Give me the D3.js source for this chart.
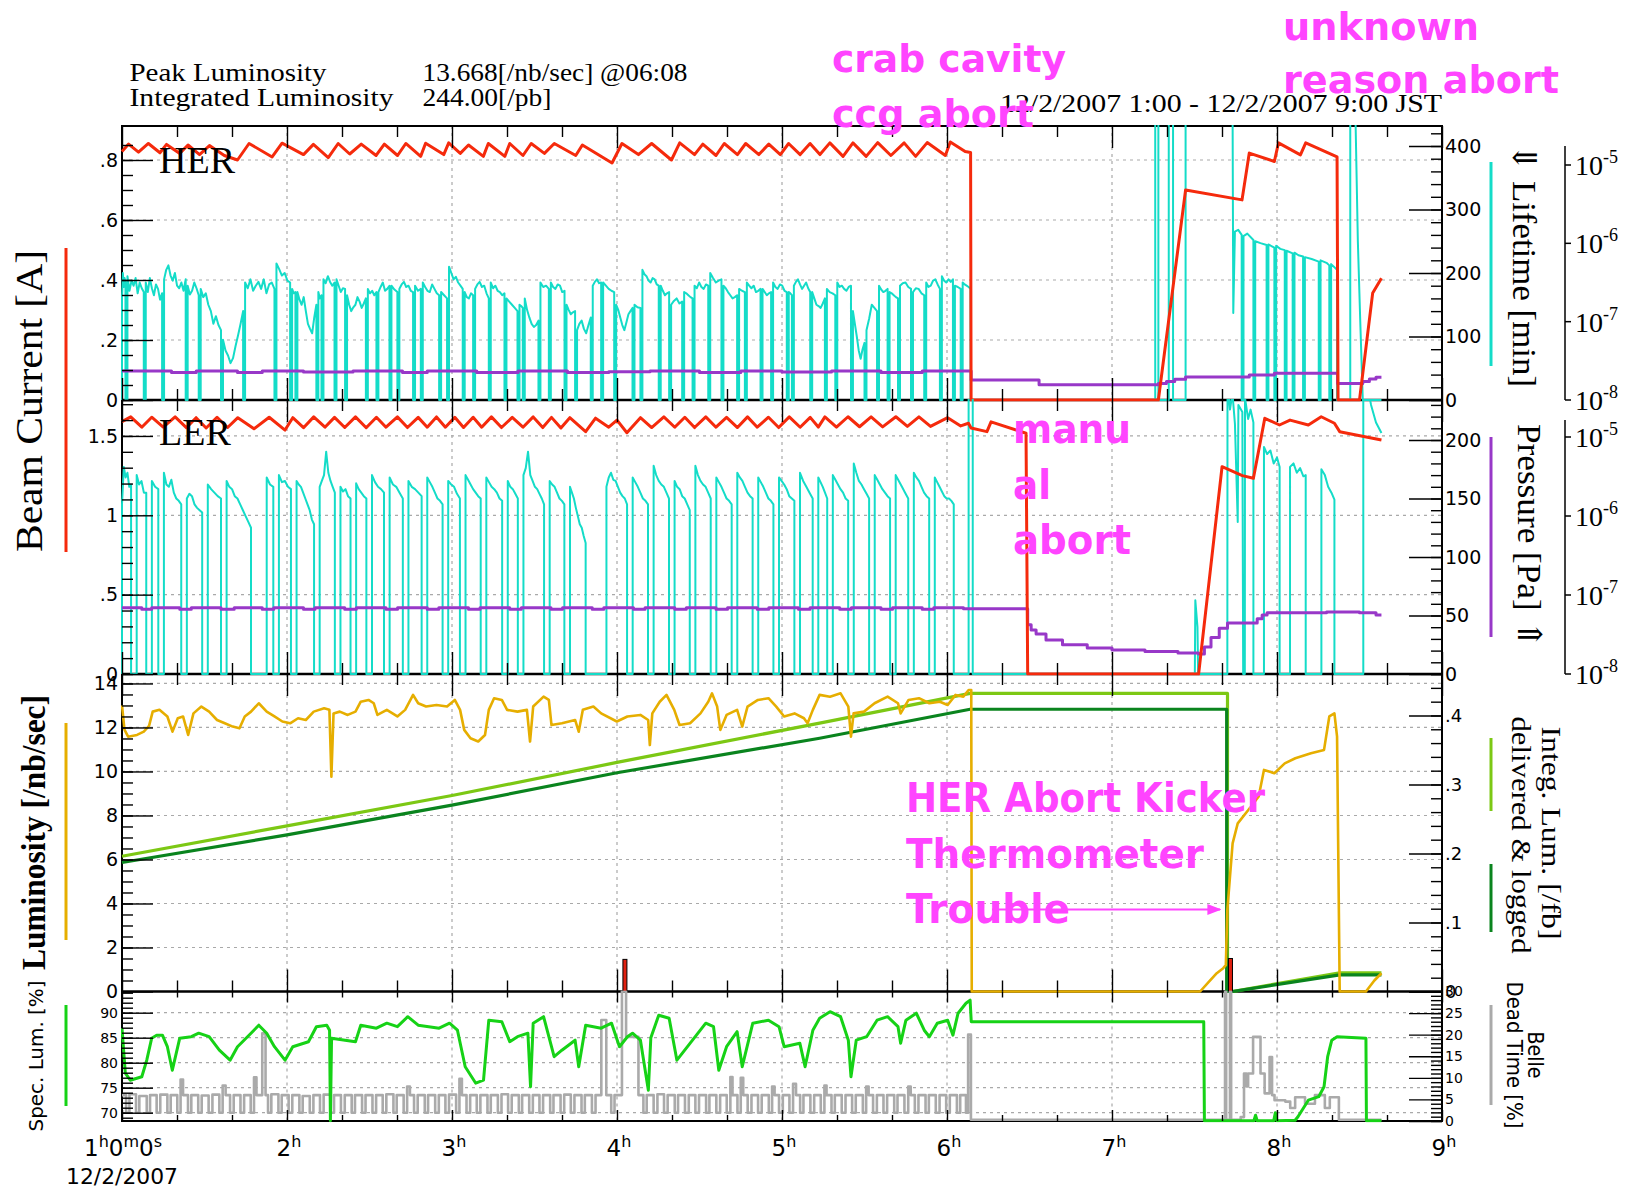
<!DOCTYPE html>
<html lang="en">
<head>
<meta charset="UTF-8">
<title>KEKB / Belle 12/2/2007</title>
<script src="https://d3js.org/d3.v7.min.js"></script>
</head>
<body style="margin:0;background:#fff">
<svg width="1641" height="1189"></svg>
<script>
// ---------------- data (time in hours JST, 12/2/2007) ----------------
var hourLabels = ["1", "2", "3", "4", "5", "6", "7", "8", "9"];
var firstLabelParts = [["1", "h"], ["0", "m"], ["0", "s"]];

var herTicks = [0, 0.2, 0.4, 0.6, 0.8], herTickLabels = ["0", ".2", ".4", ".6", ".8"];
var lerTicks = [0, 0.5, 1, 1.5], lerTickLabels = ["0", ".5", "1", "1.5"];
var lumTicks = [0, 2, 4, 6, 8, 10, 12, 14], lumTickLabels = ["0", "2", "4", "6", "8", "10", "12", "14"];
var specTicks = [70, 75, 80, 85, 90], specTickLabels = ["70", "75", "80", "85", "90"];
var herLifeTicks = [0, 100, 200, 300, 400], herLifeLabels = ["0", "100", "200", "300", "400"];
var lerLifeTicks = [0, 50, 100, 150, 200], lerLifeLabels = ["0", "50", "100", "150", "200"];
var integTicks = [0, 0.1, 0.2, 0.3, 0.4], integLabels = ["0", ".1", ".2", ".3", ".4"];
var deadTicks = [0, 5, 10, 15, 20, 25, 30], deadLabels = ["0", "5", "10", "15", "20", "25", "30"];
var logExponents = [-8, -7, -6, -5];

// HER beam current [A]
var herCurrent = [
  [1.000,0.828],[1.040,0.853],[1.100,0.826],[1.160,0.855],[1.230,0.824],[1.270,0.852],[1.350,0.822],[1.400,0.850],
  [1.470,0.818],[1.530,0.848],[1.620,0.815],[1.700,0.800],[1.770,0.855],[1.910,0.810],[1.970,0.856],[2.100,0.818],
  [2.160,0.852],[2.250,0.808],[2.310,0.855],[2.380,0.820],[2.450,0.853],[2.540,0.815],[2.590,0.853],[2.670,0.815],
  [2.720,0.855],[2.810,0.812],[2.840,0.856],[2.950,0.818],[2.980,0.857],[3.050,0.822],[3.100,0.850],[3.190,0.812],
  [3.220,0.855],[3.320,0.812],[3.350,0.855],[3.430,0.815],[3.480,0.855],[3.560,0.822],[3.620,0.855],[3.750,0.815],
  [3.790,0.850],[3.970,0.790],[4.030,0.855],[4.130,0.818],[4.210,0.855],[4.330,0.800],[4.380,0.857],[4.470,0.818],
  [4.520,0.853],[4.600,0.815],[4.650,0.855],[4.730,0.818],[4.780,0.855],[4.860,0.818],[4.920,0.853],[4.990,0.818],
  [5.040,0.855],[5.110,0.818],[5.170,0.855],[5.230,0.818],[5.290,0.857],[5.370,0.812],[5.430,0.857],[5.510,0.812],
  [5.580,0.858],[5.660,0.815],[5.740,0.857],[5.810,0.812],[5.880,0.858],[5.990,0.815],[6.020,0.860],[6.110,0.828],
  [6.143,0.825],[6.146,0],[7.281,0],[7.446,0.700],[7.788,0.667],[7.832,0.823],[7.984,0.795],[8.009,0.857],
  [8.142,0.817],[8.174,0.857],[8.364,0.810],[8.370,0],[8.500,0],[8.580,0.357],[8.633,0.406]
];

// LER beam current [A]
var lerCurrent = [
  [1.000,1.590],[1.053,1.620],[1.120,1.555],[1.180,1.618],[1.250,1.555],[1.322,1.620],[1.390,1.552],[1.449,1.615],
  [1.510,1.550],[1.576,1.618],[1.640,1.553],[1.702,1.615],[1.800,1.545],[1.892,1.618],[1.988,1.537],[2.035,1.615],
  [2.100,1.552],[2.162,1.620],[2.230,1.555],[2.288,1.617],[2.350,1.553],[2.415,1.620],[2.480,1.552],[2.542,1.618],
  [2.600,1.555],[2.669,1.620],[2.730,1.553],[2.795,1.617],[2.850,1.555],[2.906,1.620],[2.960,1.555],[3.017,1.618],
  [3.070,1.553],[3.128,1.618],[3.180,1.555],[3.239,1.620],[3.300,1.553],[3.365,1.617],[3.430,1.555],[3.492,1.620],
  [3.550,1.553],[3.603,1.617],[3.660,1.550],[3.714,1.615],[3.810,1.527],[3.870,1.612],[3.950,1.555],[4.000,1.600],
  [4.060,1.520],[4.142,1.615],[4.210,1.553],[4.284,1.620],[4.350,1.555],[4.411,1.618],[4.470,1.553],[4.538,1.620],
  [4.600,1.555],[4.664,1.617],[4.730,1.553],[4.791,1.620],[4.850,1.555],[4.918,1.618],[4.980,1.553],[5.044,1.620],
  [5.110,1.555],[5.171,1.617],[5.220,1.556],[5.260,1.620],[5.330,1.555],[5.400,1.621],[5.470,1.558],[5.540,1.620],
  [5.610,1.557],[5.690,1.621],[5.760,1.560],[5.830,1.620],[5.900,1.560],[6.004,1.615],[6.083,1.563],[6.130,1.580],
  [6.146,1.550],[6.242,1.527],[6.267,1.589],[6.479,1.517],[6.489,0],[7.525,0],[7.667,1.306],[7.790,1.250],
  [7.857,1.233],[7.926,1.611],[8.015,1.569],[8.079,1.600],[8.190,1.569],[8.268,1.621],[8.348,1.580],[8.380,1.527],
  [8.633,1.474]
];

// HER lifetime [min]: on-intervals [start, end, readings...], zero in between
var herLifeSegs = [
  [1.000,1.021,160,200,178,192,185],[1.033,1.132,195,172,188,180,192,168,185,176,170],
  [1.144,1.243,185,170,192,176,165,182,175,158,168],[1.255,1.386,190,205,212,196,188,200,180,176,185,172,190],
  [1.398,1.465,180,166,172,185,176,165],[1.477,1.600,175,162,168,150,140,120,132,118,110],
  [1.612,1.734,95,78,70,58,66,85,102,120,140],[1.746,1.924,185,176,190,172,180,186,175,190,168,182,185,175],
  [1.936,2.019,215,206,196,200,188,185],[2.031,2.051,175,168,170],[2.063,2.178,170,158,150,162,140,120,112,105,130,150],
  [2.190,2.209,170,160,165],[2.221,2.288,190,184,195,186,180,185],[2.300,2.352,190,180,170,176,175],
  [2.364,2.478,165,150,140,146,150,162,155,145,152,160],[2.490,2.542,175,168,172,165,170],
  [2.554,2.621,170,178,185,172,175,180],[2.633,2.669,180,174,170],[2.681,2.764,175,182,186,178,180,172,170],
  [2.776,2.811,180,172,175],[2.823,2.922,185,178,172,170,182,175,168,165],[2.934,2.970,170,165,160],
  [2.982,3.065,210,200,190,194,185,180,175],[3.077,3.128,170,162,160,168,165],[3.140,3.223,175,182,186,178,180,168,160],
  [3.235,3.318,185,176,180,172,170,165,168],[3.330,3.397,160,155,150,145,140],[3.409,3.429,150,148,145],
  [3.441,3.524,160,142,130,120,115,118,125],[3.536,3.587,185,178,180,175],[3.599,3.682,185,178,175,182,180,170,172],
  [3.694,3.746,150,142,135,138,140],[3.758,3.841,110,120,125,112,105,118,130],[3.853,3.904,180,186,190,184,185],
  [3.916,3.983,185,180,175,172,170],[3.995,4.094,150,142,130,118,110,122,135,140,145],[4.106,4.142,150,146,145],
  [4.154,4.253,205,198,195,188,185,192,190,182,180],[4.265,4.316,180,172,165,168,170],[4.328,4.395,150,156,160,152,155],
  [4.407,4.458,170,168,165,162,160],[4.470,4.553,180,176,185,178,175,182,180],[4.565,4.633,200,192,185,188,190],
  [4.645,4.728,180,176,170,165,160,162,165],[4.740,4.775,175,172,170],[4.787,4.870,185,180,176,180,170,172,175],
  [4.882,4.934,175,170,165,168,170],[4.946,5.029,185,178,175,182,180,172,170],[5.041,5.060,170,168,165],
  [5.072,5.171,180,186,190,182,175,180,185,176,170],[5.183,5.260,170,160,150,148,145,152,160],[5.272,5.323,175,170,168,165],
  [5.335,5.418,185,178,180,175,172,178,180],[5.430,5.500,140,120,100,78,65,80,90],[5.512,5.576,110,128,150,145,140],
  [5.588,5.640,180,174,170,172,175],[5.652,5.703,170,168,165,162,160],[5.715,5.782,180,184,185,178,175],
  [5.794,5.862,170,176,175,168,165],[5.874,5.957,185,178,180,188,190,182,175],[5.969,6.036,195,188,185,190,186,190],
  [6.048,6.083,180,178,175],[6.095,6.143,185,182,180,178,175]
];
var herLifeLate = [
  [6.143,0],[7.262,0],[7.262,440],[7.281,440],[7.281,0],[7.344,0],[7.344,440],[7.370,440],[7.370,0],[7.446,0],
  [7.446,440],[7.731,440],[7.735,137],[7.745,265],[7.765,268],[7.786,260],[7.786,0],[7.797,0],[7.797,258],[7.820,262],
  [7.857,252],[7.857,0],[7.868,0],[7.868,250],[7.900,247],[7.937,244],[7.937,0],[7.948,0],[7.948,245],[7.984,240],
  [7.984,0],[7.995,0],[7.995,243],[8.020,238],[8.047,236],[8.047,0],[8.058,0],[8.058,235],[8.095,231],[8.095,0],
  [8.106,0],[8.106,232],[8.130,228],[8.158,226],[8.158,0],[8.169,0],[8.169,225],[8.210,222],[8.253,218],[8.253,0],
  [8.264,0],[8.264,220],[8.300,216],[8.317,212],[8.317,0],[8.328,0],[8.328,214],[8.364,205],[8.364,0],[8.444,0],
  [8.444,440],[8.476,440],[8.490,250],[8.505,120],[8.520,0],[8.633,0]
];

// LER lifetime [min]
var lerLifeSegs = [
  [1.000,1.055,145,177,168,172,160,162],[1.089,1.147,170,162,165,155,155],[1.181,1.220,165,160,158],
  [1.254,1.359,172,162,160,166,155,150,148,145],[1.393,1.486,150,154,152,145,142,140,138],[1.520,1.600,162,158,155,152,150],
  [1.634,1.782,165,160,158,152,150,145,140,135,130,125],[1.877,1.917,168,162,160],[1.951,2.024,170,164,165,160,158],
  [2.058,2.164,165,162,160,155,150,145,140,132,128],[2.198,2.290,160,165,170,190,172,165,160,155],
  [2.324,2.385,160,156,158,152,150],[2.419,2.481,163,158,155,152,150],[2.515,2.588,170,164,160,158,155],
  [2.622,2.702,168,162,160,155,150],[2.736,2.816,165,160,158,155,152],[2.850,2.943,168,164,160,155,150,148,145],
  [2.977,3.048,165,162,160,154,150],[3.082,3.174,170,166,162,158,155,152,150],[3.208,3.304,168,164,160,158,155,150,148],
  [3.338,3.399,165,160,158,154,150],[3.433,3.558,170,176,190,170,165,160,158,154,150,145],
  [3.592,3.681,165,162,160,155,150,148,145],[3.715,3.810,160,155,150,142,135,128,125,118,112],
  [3.936,4.061,160,168,172,166,165,160,155,152,150,145],[4.095,4.188,168,164,160,155,150,148,145],
  [4.222,4.315,178,170,165,162,160,155,150],[4.349,4.441,165,160,158,152,150,145,140],
  [4.475,4.568,178,170,165,162,160,155,150],[4.602,4.695,168,164,160,155,150,148,145],
  [4.729,4.822,172,168,165,160,155,152,150],[4.856,4.948,168,164,160,155,150,148,145],
  [4.982,5.075,168,165,162,158,152,150,148],[5.109,5.186,172,165,160,155,150],[5.220,5.274,168,164,160,155,150],
  [5.308,5.401,170,166,162,158,155,150,148],[5.435,5.528,180,172,165,162,158,154,150],
  [5.562,5.655,170,166,162,158,155,152,150],[5.689,5.765,170,165,160,155,150],
  [5.799,5.892,172,168,165,160,155,152,150],[5.926,6.041,168,164,160,156,152,150,150,148,145]
];
var lerLifeLate = [
  [6.131,0],[6.131,250],[6.156,250],[6.156,0],[7.502,0],[7.505,63],[7.518,40],[7.522,0],[7.699,0],[7.700,250],
  [7.715,226],[7.730,240],[7.745,214],[7.762,130],[7.766,230],[7.790,224],[7.795,0],[7.805,0],[7.806,236],[7.825,218],
  [7.840,226],[7.857,215],[7.857,0],[7.921,0],[7.921,194],[7.940,188],[7.960,191],[7.980,180],[8.000,185],[8.016,177],
  [8.016,0],[8.079,0],[8.079,177],[8.100,180],[8.120,172],[8.140,176],[8.160,169],[8.174,170],[8.174,0],[8.269,0],
  [8.269,175],[8.290,170],[8.310,160],[8.330,155],[8.348,149],[8.348,0],[8.523,0],[8.523,250],[8.550,245],[8.570,230],
  [8.600,215],[8.633,206]
];

// vacuum pressure [Pa] (step readings)
var herPressure = [
  [1.00,2.35e-8],[1.30,2.25e-8],[1.45,2.35e-8],[1.70,2.25e-8],[1.85,2.35e-8],[2.10,2.27e-8],[2.40,2.35e-8],
  [2.70,2.25e-8],[2.85,2.35e-8],[3.15,2.25e-8],[3.40,2.35e-8],[3.70,2.25e-8],[3.95,2.30e-8],[4.20,2.35e-8],
  [4.50,2.25e-8],[4.75,2.35e-8],[5.00,2.27e-8],[5.30,2.35e-8],[5.60,2.25e-8],[5.85,2.35e-8],[6.146,1.80e-8],
  [6.558,1.56e-8],[7.281,1.62e-8],[7.330,1.72e-8],[7.380,1.84e-8],[7.446,1.97e-8],[7.832,2.08e-8],[7.984,2.19e-8],
  [8.367,1.63e-8],[8.520,1.72e-8],[8.560,1.85e-8],[8.600,1.95e-8],[8.633,1.95e-8]
];
var lerPressure = [
  [1.00,6.9e-8],[1.12,6.6e-8],[1.18,6.9e-8],[1.35,6.6e-8],[1.42,6.9e-8],[1.60,6.6e-8],[1.68,6.9e-8],[1.85,6.6e-8],
  [1.92,6.9e-8],[2.10,6.6e-8],[2.17,6.9e-8],[2.35,6.6e-8],[2.42,6.9e-8],[2.60,6.6e-8],[2.67,6.9e-8],[2.85,6.6e-8],
  [2.92,6.9e-8],[3.10,6.6e-8],[3.17,6.9e-8],[3.35,6.6e-8],[3.42,6.9e-8],[3.60,6.6e-8],[3.67,6.9e-8],[3.85,6.6e-8],
  [3.92,6.9e-8],[4.10,6.6e-8],[4.17,6.9e-8],[4.35,6.6e-8],[4.42,6.9e-8],[4.60,6.6e-8],[4.67,6.9e-8],[4.85,6.6e-8],
  [4.92,6.9e-8],[5.10,6.6e-8],[5.17,6.9e-8],[5.35,6.6e-8],[5.42,6.9e-8],[5.60,6.6e-8],[5.67,6.9e-8],[5.85,6.6e-8],
  [5.92,6.9e-8],[6.10,6.7e-8],[6.489,4.2e-8],[6.510,3.6e-8],[6.540,3.2e-8],[6.600,2.7e-8],[6.700,2.35e-8],
  [6.850,2.13e-8],[7.000,2.01e-8],[7.200,1.93e-8],[7.400,1.85e-8],[7.525,1.79e-8],[7.560,2.2e-8],[7.600,2.9e-8],
  [7.650,3.8e-8],[7.700,4.43e-8],[7.880,5.0e-8],[7.910,5.6e-8],[7.940,5.97e-8],[8.300,6.1e-8],[8.500,5.97e-8],
  [8.600,5.6e-8],[8.633,5.6e-8]
];

// luminosity [/nb/sec]
var luminosity = [
  [1.000,13.0],[1.015,11.9],[1.037,11.58],[1.091,11.66],[1.132,11.81],[1.164,12.07],[1.186,12.72],[1.227,12.8],
  [1.275,12.5],[1.306,11.81],[1.338,12.42],[1.370,12.5],[1.401,11.66],[1.433,12.64],[1.481,12.95],[1.528,12.72],
  [1.576,12.34],[1.623,12.19],[1.671,12.04],[1.712,11.96],[1.744,12.5],[1.782,12.72],[1.829,13.1],[1.877,12.72],
  [1.924,12.5],[1.972,12.27],[2.019,12.19],[2.067,12.42],[2.114,12.34],[2.162,12.72],[2.225,12.87],[2.257,12.8],
  [2.269,9.76],[2.282,12.64],[2.320,12.72],[2.368,12.57],[2.415,12.72],[2.447,13.17],[2.494,13.25],[2.526,13.1],
  [2.548,12.57],[2.605,12.8],[2.669,12.5],[2.716,12.8],[2.764,13.48],[2.795,13.1],[2.843,12.95],[2.906,13.02],
  [2.970,12.95],[3.017,13.25],[3.049,12.8],[3.074,11.89],[3.112,11.51],[3.159,11.36],[3.200,11.66],[3.223,12.8],
  [3.255,13.33],[3.302,13.25],[3.334,12.8],[3.397,12.72],[3.454,12.8],[3.473,11.36],[3.492,12.95],[3.555,13.4],
  [3.587,13.25],[3.603,12.11],[3.666,12.19],[3.746,12.34],[3.768,11.81],[3.793,12.8],[3.857,12.95],[3.904,12.64],
  [3.999,12.27],[4.063,12.5],[4.142,12.57],[4.189,12.34],[4.199,11.2],[4.214,12.64],[4.259,13.17],[4.300,13.48],
  [4.347,12.8],[4.379,12.11],[4.443,12.19],[4.506,12.64],[4.553,13.17],[4.576,13.55],[4.607,12.95],[4.626,11.89],
  [4.664,12.57],[4.728,12.8],[4.759,12.04],[4.791,12.95],[4.854,13.25],[4.918,13.33],[4.965,12.95],[5.013,12.5],
  [5.076,12.64],[5.133,12.42],[5.155,12.19],[5.187,12.8],[5.228,13.48],[5.291,13.4],[5.355,13.55],[5.402,12.95],
  [5.418,11.58],[5.434,12.64],[5.497,12.72],[5.561,13.1],[5.640,13.4],[5.703,13.1],[5.719,12.64],[5.767,13.25],
  [5.830,13.33],[5.893,13.1],[5.957,13.17],[6.004,13.02],[6.052,13.48],[6.099,13.4],[6.131,13.7],[6.147,13.7],
  [6.150,0],[7.534,0],[7.588,0.45],[7.635,0.83],[7.674,1.06],[7.690,1.2],[7.699,3.7],[7.731,6.73],[7.762,7.64],
  [7.826,8.25],[7.889,8.86],[7.921,10.07],[7.984,9.92],[8.047,10.37],[8.111,10.6],[8.206,10.83],[8.285,10.98],
  [8.317,12.5],[8.348,12.64],[8.364,11.58],[8.380,0],[8.539,0],[8.590,0.5],[8.633,0.83]
];

// integrated luminosity [/fb]
var integDelivered = [[1.0,0.196],[2.0,0.240],[3.0,0.284],[4.0,0.332],[5.228,0.389],[6.14,0.432],[7.70,0.432],[7.70,0],[7.73,0],[8.38,0.027],[8.633,0.027]];
var integLogged = [[1.0,0.187],[2.0,0.227],[3.0,0.270],[4.0,0.317],[5.228,0.367],[6.14,0.409],[7.695,0.409],[7.695,0],[7.73,0],[8.38,0.024],[8.633,0.024]];

// small abort markers in the luminosity panel
var abortBarTimes = [4.048, 7.718];
var abortBarLum = [1.46, 1.50];

// specific luminosity [%]
var specLum = [
  [1.000,86.9],[1.020,77.9],[1.050,76.5],[1.120,77.2],[1.150,80.5],[1.180,84.9],[1.210,85.5],[1.245,85.5],[1.275,83.2],
  [1.305,78.5],[1.350,84.9],[1.420,85.2],[1.465,85.9],[1.528,85.2],[1.590,82.5],[1.655,80.5],[1.700,83.2],[1.782,85.9],
  [1.829,87.5],[1.877,85.9],[1.924,83.2],[1.988,80.5],[2.035,83.2],[2.130,84.2],[2.178,87.2],[2.241,87.5],[2.258,86.5],
  [2.263,68.4],[2.270,84.9],[2.352,84.5],[2.415,84.2],[2.447,87.5],[2.542,86.9],[2.605,87.9],[2.669,87.2],[2.732,89.2],
  [2.795,87.5],[2.859,87.2],[2.922,86.9],[2.985,87.9],[3.033,86.5],[3.080,79.2],[3.144,75.9],[3.191,76.5],[3.223,88.5],
  [3.302,88.2],[3.350,84.2],[3.397,85.2],[3.460,85.9],[3.476,75.2],[3.492,87.9],[3.555,89.2],[3.603,83.2],[3.619,81.2],
  [3.666,82.5],[3.746,84.5],[3.768,79.2],[3.810,87.5],[3.904,86.9],[3.967,87.9],[4.015,83.2],[4.063,85.2],[4.094,85.9],
  [4.142,84.5],[4.190,74.5],[4.205,85.0],[4.253,89.5],[4.316,88.9],[4.363,80.5],[4.427,83.2],[4.538,87.9],[4.585,87.2],
  [4.617,78.5],[4.664,83.2],[4.728,86.2],[4.759,79.2],[4.823,87.9],[4.918,88.5],[4.982,87.2],[5.013,83.2],[5.108,83.9],
  [5.140,79.2],[5.187,86.5],[5.228,88.9],[5.291,90.2],[5.355,89.2],[5.402,84.5],[5.418,77.2],[5.450,84.5],[5.513,85.2],
  [5.576,88.5],[5.640,89.2],[5.703,87.2],[5.719,83.9],[5.751,88.5],[5.814,89.9],[5.862,86.5],[5.893,85.2],[5.941,87.9],
  [6.004,88.5],[6.036,85.5],[6.067,89.9],[6.115,91.9],[6.140,92.5],[6.147,88.2],[7.556,88.2],[7.560,68.4],[7.860,68.4],
  [7.870,69.5],[7.880,68.4],[7.980,68.4],[7.990,70.0],[8.000,68.4],[8.110,68.5],[8.127,69.2],[8.190,72.5],[8.253,73.2],
  [8.285,75.2],[8.307,81.2],[8.332,84.5],[8.364,85.2],[8.539,84.9],[8.542,68.4],[8.633,68.4]
];

// Belle dead time [%] (step readings)
var deadTime = [
  [1.000,6.0],[1.025,1.9],[1.045,6.2],[1.085,1.9],[1.105,5.8],[1.150,1.9],[1.170,6.0],[1.210,1.9],[1.232,6.1],[1.275,1.9],
  [1.295,6.0],[1.335,1.9],[1.355,9.6],[1.370,6.0],[1.400,1.9],[1.420,6.0],[1.462,1.9],[1.483,5.9],[1.525,1.9],[1.548,6.1],
  [1.590,1.9],[1.610,8.2],[1.628,6.0],[1.655,1.9],[1.677,6.0],[1.718,1.9],[1.740,6.0],[1.780,1.9],[1.800,10.1],[1.815,6.0],
  [1.850,20.3],[1.870,6.0],[1.885,1.9],[1.905,6.2],[1.948,1.9],[1.968,6.0],[2.010,1.9],[2.032,6.0],[2.075,1.9],[2.095,5.8],
  [2.138,1.9],[2.160,6.0],[2.200,1.9],[2.222,6.1],[2.265,1.9],[2.285,6.0],[2.327,1.9],[2.350,6.0],[2.392,1.9],[2.412,6.0],
  [2.455,1.9],[2.476,6.0],[2.518,1.9],[2.540,6.0],[2.580,1.9],[2.602,6.2],[2.645,1.9],[2.665,6.0],[2.707,1.9],[2.728,8.0],
  [2.745,6.0],[2.770,1.9],[2.792,6.0],[2.835,1.9],[2.855,6.0],[2.898,1.9],[2.920,6.0],[2.960,1.9],[2.982,6.1],[3.025,1.9],
  [3.045,9.8],[3.060,6.0],[3.088,1.9],[3.110,6.0],[3.150,1.9],[3.172,6.0],[3.215,1.9],[3.235,6.0],[3.278,1.9],[3.300,6.2],
  [3.340,1.9],[3.362,6.0],[3.405,1.9],[3.425,6.0],[3.468,1.9],[3.490,6.0],[3.530,1.9],[3.552,6.0],[3.595,1.9],[3.615,6.0],
  [3.658,1.9],[3.680,6.1],[3.720,1.9],[3.742,6.0],[3.785,1.9],[3.805,6.0],[3.848,1.9],[3.870,6.0],[3.905,23.4],[3.935,6.0],
  [3.965,1.9],[3.985,6.0],[4.030,30.0],[4.055,19.5],[4.130,6.0],[4.160,1.9],[4.180,6.0],[4.222,1.9],[4.245,6.2],[4.285,1.9],
  [4.307,6.0],[4.350,1.9],[4.370,6.0],[4.412,1.9],[4.435,6.0],[4.475,1.9],[4.497,6.0],[4.540,1.9],[4.560,6.0],[4.602,1.9],
  [4.625,6.0],[4.665,1.9],[4.687,10.2],[4.700,6.0],[4.730,1.9],[4.750,10.0],[4.765,6.0],[4.792,1.9],[4.815,6.0],[4.855,1.9],
  [4.877,6.0],[4.920,1.9],[4.940,8.0],[4.955,6.0],[4.982,1.9],[5.005,6.0],[5.045,1.9],[5.067,8.6],[5.085,6.0],[5.110,1.9],
  [5.130,6.0],[5.172,1.9],[5.195,6.0],[5.235,1.9],[5.257,8.2],[5.270,6.0],[5.300,1.9],[5.320,6.0],[5.362,1.9],[5.385,6.0],
  [5.425,1.9],[5.447,6.0],[5.490,1.9],[5.510,8.0],[5.525,6.0],[5.552,1.9],[5.575,6.0],[5.615,1.9],[5.637,6.0],[5.680,1.9],
  [5.700,6.0],[5.742,1.9],[5.765,8.0],[5.780,6.0],[5.805,1.9],[5.827,6.0],[5.870,1.9],[5.890,6.0],[5.932,1.9],[5.955,6.0],
  [5.995,1.9],[6.017,6.0],[6.060,1.9],[6.080,6.0],[6.115,1.9],[6.128,20.0],[6.145,0.3],[7.685,30.0],[7.692,0.3],
  [7.715,30.0],[7.722,0.3],[7.780,0.9],[7.800,11.0],[7.815,8.0],[7.825,11.0],[7.855,19.5],[7.900,11.0],[7.925,6.4],
  [7.955,14.8],[7.970,6.0],[7.985,4.8],[8.050,4.5],[8.080,3.0],[8.110,5.5],[8.170,4.0],[8.230,6.0],[8.290,3.0],
  [8.320,5.5],[8.375,0.3],[8.633,0.3]
];

// ---------------- drawing ----------------
var svg = d3.select("svg"),
    serif = "'Liberation Serif','DejaVu Serif',serif",
    sans = "'DejaVu Sans','Liberation Sans',sans-serif",
    magenta = "#ff44ff";

svg.append("rect").attr("width", 1641).attr("height", 1189).attr("fill", "#fff");

var x = d3.scaleLinear().domain([1, 9]).range([122, 1442]);
var yHer = d3.scaleLinear().domain([0, 0.9133]).range([400, 126]),
    yHerLife = d3.scaleLinear().domain([0, 431.5]).range([400, 126]),
    yHerP = d3.scaleLog().domain([1e-8, 1e-5]).range([400, 165]),
    yLer = d3.scaleLinear().domain([0, 1.7265]).range([674, 400]),
    yLerLife = d3.scaleLinear().domain([0, 234.2]).range([674, 400]),
    yLerP = d3.scaleLog().domain([1e-8, 1e-5]).range([674, 437]),
    yLum = d3.scaleLinear().domain([0, 14.43]).range([991.5, 674]),
    yInt = d3.scaleLinear().domain([0, 0.4601]).range([991.5, 674]),
    ySpec = d3.scaleLinear().domain([68.34, 94.24]).range([1121, 991.5]),
    yDead = d3.scaleLinear().domain([0, 30]).range([1121, 991.5]);

var panels = [
  {id: "cHer", top: 126, bottom: 400},
  {id: "cLer", top: 400, bottom: 674},
  {id: "cLum", top: 674, bottom: 991.5},
  {id: "cSpec", top: 991.5, bottom: 1121}
];
var defs = svg.append("defs");
panels.forEach(function (p) {
  defs.append("clipPath").attr("id", p.id).append("rect")
    .attr("x", 121).attr("y", p.top - 1).attr("width", 1322).attr("height", p.bottom - p.top + 2.5);
});
defs.append("marker").attr("id", "arr").attr("viewBox", "0 0 10 10").attr("refX", 9).attr("refY", 5)
  .attr("markerWidth", 7).attr("markerHeight", 7).attr("orient", "auto")
  .append("path").attr("d", "M0,1 L10,5 L0,9 Z").attr("fill", magenta);

// grid
var grid = svg.append("g").attr("stroke", "#a9a9a9").attr("stroke-width", 1.2).attr("stroke-dasharray", "3,4");
[[yHer, herTicks.slice(1)], [yLer, lerTicks.slice(1)], [yLum, lumTicks.slice(1)], [ySpec, specTicks]].forEach(function (g) {
  grid.selectAll(null).data(g[1]).enter().append("line")
    .attr("x1", 122).attr("x2", 1442).attr("y1", function (d) { return g[0](d); }).attr("y2", function (d) { return g[0](d); });
});
panels.forEach(function (p) {
  grid.selectAll(null).data([2, 3, 4, 5, 6, 7, 8]).enter().append("line")
    .attr("x1", function (d) { return x(d); }).attr("x2", function (d) { return x(d); })
    .attr("y1", p.top).attr("y2", p.bottom);
});

// frame
svg.append("rect").attr("x", 122).attr("y", 126).attr("width", 1320).attr("height", 995)
  .attr("fill", "none").attr("stroke", "#000").attr("stroke-width", 2);
[400, 674, 991.5].forEach(function (yy) {
  svg.append("line").attr("x1", 122).attr("x2", 1442).attr("y1", yy).attr("y2", yy)
    .attr("stroke", "#000").attr("stroke-width", 2.5);
});

function segPoints(segs) {
  var pts = [];
  segs.forEach(function (s) {
    var vals = s.slice(2), n = vals.length;
    pts.push([s[0], 0]);
    vals.forEach(function (v, i) { pts.push([s[0] + (s[1] - s[0]) * i / (n - 1), v]); });
    pts.push([s[1], 0]);
  });
  return pts;
}

function draw(data, ys, color, w, clip, curve) {
  svg.append("path").datum(data)
    .attr("clip-path", "url(#" + clip + ")")
    .attr("fill", "none").attr("stroke", color).attr("stroke-width", w)
    .attr("stroke-linejoin", "round")
    .attr("d", d3.line().x(function (d) { return x(d[0]); }).y(function (d) { return ys(d[1]); })
      .curve(curve || d3.curveLinear));
}

var cyan = "#14dcc8", purple = "#9838c8", red = "#f52a0c";
draw(segPoints(herLifeSegs).concat(herLifeLate), yHerLife, cyan, 2, "cHer");
draw(herPressure, yHerP, purple, 3, "cHer", d3.curveStepAfter);
draw(herCurrent, yHer, red, 3, "cHer");
draw(segPoints(lerLifeSegs).concat(lerLifeLate), yLerLife, cyan, 2, "cLer");
draw(lerPressure, yLerP, purple, 3, "cLer", d3.curveStepAfter);
draw(lerCurrent, yLer, red, 3, "cLer");
draw(integDelivered, yInt, "#7cc814", 3.2, "cLum");
draw(integLogged, yInt, "#0a841e", 3.2, "cLum");
draw(luminosity, yLum, "#e6ae00", 2.6, "cLum");
svg.selectAll(null).data(abortBarTimes).enter().append("rect")
  .attr("x", function (d) { return x(d) - 2; }).attr("width", 4)
  .attr("y", function (d, i) { return yLum(abortBarLum[i]); })
  .attr("height", function (d, i) { return yLum(0) - yLum(abortBarLum[i]); })
  .attr("fill", "#e02010").attr("stroke", "#000").attr("stroke-width", 1);
draw(deadTime, yDead, "#aaaaaa", 2.6, "cSpec", d3.curveStepAfter);
draw(specLum, ySpec, "#16d216", 3, "cSpec");

// x ticks on every panel edge
var hourVals = [1, 2, 3, 4, 5, 6, 7, 8, 9];
var minorHours = d3.range(3, 27).filter(function (k) { return k % 3; }).map(function (k) { return k / 3; });
[[126, "top", 22, 11], [400, "bottom", 22, 11], [400, "top", 22, 11], [674, "bottom", 22, 11],
 [674, "top", 22, 11], [991.5, "bottom", 22, 11], [991.5, "top", 11, 6], [1121, "bottom", 11, 6]].forEach(function (e) {
  var mk = e[1] === "top" ? d3.axisTop : d3.axisBottom;
  var g = svg.append("g").attr("transform", "translate(0," + e[0] + ")");
  g.append("g").call(mk(x).tickValues(hourVals).tickSize(-e[2]).tickFormat(""));
  g.append("g").call(mk(x).tickValues(minorHours).tickSize(-e[3]).tickFormat(""));
  g.selectAll(".domain").remove();
  g.selectAll("line").attr("stroke", "#000").attr("stroke-width", 1.4);
});

function yAxis(side, xpos, scale, major, labels, minor, bigLen, smallLen, fs) {
  var mk = side === "left" ? d3.axisLeft : d3.axisRight;
  var g = svg.append("g").attr("transform", "translate(" + xpos + ",0)");
  g.append("g").call(mk(scale).tickValues(minor).tickSize(-smallLen).tickFormat(""));
  g.append("g").call(mk(scale).tickValues(major).tickSize(-bigLen).tickPadding(side === "left" ? 4 : 3)
    .tickFormat(function (d, i) { return labels[i]; }));
  g.selectAll(".domain").remove();
  g.selectAll("line").attr("stroke", "#000").attr("stroke-width", 1.4);
  g.selectAll("text").attr("font-family", sans).attr("font-size", fs).attr("fill", "#000");
}
yAxis("left", 122, yHer, herTicks, herTickLabels, d3.range(0, 18).map(function (k) { return k * 0.05; }), 31, 11, 19);
yAxis("left", 122, yLer, lerTicks, lerTickLabels, d3.range(0, 18).map(function (k) { return k * 0.1; }), 31, 11, 19);
yAxis("left", 122, yLum, lumTicks, lumTickLabels, d3.range(0, 29).map(function (k) { return k * 0.5; }), 31, 11, 19);
yAxis("left", 122, ySpec, specTicks, specTickLabels, d3.range(69, 95), 31, 11, 14);
yAxis("right", 1442, yHerLife, herLifeTicks, herLifeLabels, d3.range(0, 22).map(function (k) { return k * 20; }), 33, 11, 19);
yAxis("right", 1442, yLerLife, lerLifeTicks, lerLifeLabels, d3.range(0, 24).map(function (k) { return k * 10; }), 33, 11, 19);
yAxis("right", 1442, yInt, integTicks, integLabels, d3.range(0, 24).map(function (k) { return k * 0.02; }), 33, 11, 18);
yAxis("right", 1442, yDead, deadTicks, deadLabels, d3.range(0, 31), 33, 11, 14);

// log pressure axes
[[yHerP, 1.75e-5], [yLerP, 1.64e-5]].forEach(function (a) {
  var sc = a[0];
  svg.append("line").attr("x1", 1565).attr("x2", 1565).attr("y1", sc(1e-8)).attr("y2", sc(a[1]))
    .attr("stroke", "#000").attr("stroke-width", 1.5);
  logExponents.forEach(function (e) {
    var yy = sc(Math.pow(10, e));
    svg.append("line").attr("x1", 1565).attr("x2", 1571).attr("y1", yy).attr("y2", yy)
      .attr("stroke", "#000").attr("stroke-width", 1.5);
    var t = svg.append("text").attr("x", 1575).attr("y", yy + 10).attr("font-family", serif).attr("font-size", 28);
    t.append("tspan").text("10");
    t.append("tspan").attr("font-size", 18).attr("dy", -12).text("-" + Math.abs(e));
  });
});

// text helper
function label(x0, y0, s, o) {
  var t = svg.append("text").attr("x", x0).attr("y", y0)
    .attr("font-family", o.ff || serif).attr("font-size", o.fs)
    .attr("fill", o.fill || "#000").attr("text-anchor", o.anchor || "start").text(s);
  if (o.len) t.attr("textLength", o.len).attr("lengthAdjust", "spacingAndGlyphs");
  if (o.rot) t.attr("transform", "rotate(" + o.rot + "," + x0 + "," + y0 + ")");
  if (o.fw) t.attr("font-weight", o.fw);
  return t;
}

// x labels
hourLabels.forEach(function (lab, i) {
  if (i === 0) return;
  var t = svg.append("text").attr("x", x(i + 1) + 2).attr("y", 1156).attr("text-anchor", "middle")
    .attr("font-family", sans).attr("font-size", 23);
  t.append("tspan").text(lab);
  t.append("tspan").attr("font-size", 16).attr("dy", -9).text("h");
});
var t0 = svg.append("text").attr("x", 84).attr("y", 1156).attr("font-family", sans).attr("font-size", 23);
firstLabelParts.forEach(function (p, i) {
  t0.append("tspan").attr("dy", i ? 9 : 0).text(p[0]);
  t0.append("tspan").attr("font-size", 16).attr("dy", -9).text(p[1]);
});
label(66, 1184, "12/2/2007", {ff: sans, fs: 22, len: 112});

// header
label(129.5, 80.5, "Peak Luminosity", {fs: 25, len: 197});
label(422.5, 80.5, "13.668[/nb/sec] @06:08", {fs: 25, len: 265});
label(129.5, 105.5, "Integrated Luminosity", {fs: 25, len: 264});
label(422.5, 105.5, "244.00[/pb]", {fs: 25, len: 129});
label(1442, 112, "12/2/2007 1:00 - 12/2/2007 9:00 JST", {fs: 25, anchor: "end", len: 442});

// ring names
label(159, 172.5, "HER", {fs: 38});
label(159, 444.5, "LER", {fs: 38});

// axis titles
label(42, 401, "Beam Current [A]", {fs: 37, rot: -90, anchor: "middle", len: 302});
label(45, 832.5, "Luminosity [/nb/sec]", {fs: 33, rot: -90, anchor: "middle", len: 275, fw: "bold"});
label(43, 1056, "Spec. Lum. [%]", {ff: sans, fs: 20, rot: -90, anchor: "middle", len: 151});
label(1513, 265, "\u21d3 Lifetime [min]", {fs: 33, rot: 90, anchor: "middle", len: 244});
label(1518, 536.5, "Pressure [Pa] \u21d1", {fs: 33, rot: 90, anchor: "middle", len: 225});
label(1542, 833, "Integ. Lum. [/fb]", {fs: 28, rot: 90, anchor: "middle", len: 213});
label(1512, 835, "delivered & logged", {fs: 28, rot: 90, anchor: "middle", len: 237});
label(1528, 1055, "Belle", {ff: sans, fs: 21, rot: 90, anchor: "middle", len: 47});
label(1507, 1055, "Dead Time [%]", {ff: sans, fs: 21, rot: 90, anchor: "middle", len: 147});

// colour keys next to titles
[[66, 248, 552, red], [66, 723, 940, "#e6ae00"], [66, 1005, 1106, "#16d216"],
 [1491, 162, 366, cyan], [1491, 437, 637, purple], [1491, 738, 811, "#7cc814"],
 [1491, 864, 932, "#0a841e"], [1491, 1005, 1105, "#aaaaaa"]].forEach(function (k) {
  svg.append("line").attr("x1", k[0]).attr("x2", k[0]).attr("y1", k[1]).attr("y2", k[2])
    .attr("stroke", k[3]).attr("stroke-width", 3);
});

// hand-written annotations
var ann = {ff: sans, fw: "bold", fill: magenta};
function note(x0, y0, s, fs, len) {
  label(x0, y0, s, Object.assign({fs: fs, len: len}, ann));
}
note(832, 72, "crab cavity", 37, 234);
note(832, 126.5, "ccg abort", 37, 202);
note(1283, 39.5, "unknown", 37, 196);
note(1283, 93, "reason abort", 37, 276);
note(1013, 443, "manu", 40, 118);
note(1013, 498.5, "al", 40, 38);
note(1013, 554, "abort", 40, 118);
note(906, 811.5, "HER Abort Kicker", 40, 359);
note(906, 868, "Thermometer", 40, 298);
note(906, 923, "Trouble", 40, 164);
svg.append("line").attr("x1", 992).attr("x2", 1220).attr("y1", 909.5).attr("y2", 909.5)
  .attr("stroke", magenta).attr("stroke-width", 2).attr("marker-end", "url(#arr)");
</script>
</body>
</html>
